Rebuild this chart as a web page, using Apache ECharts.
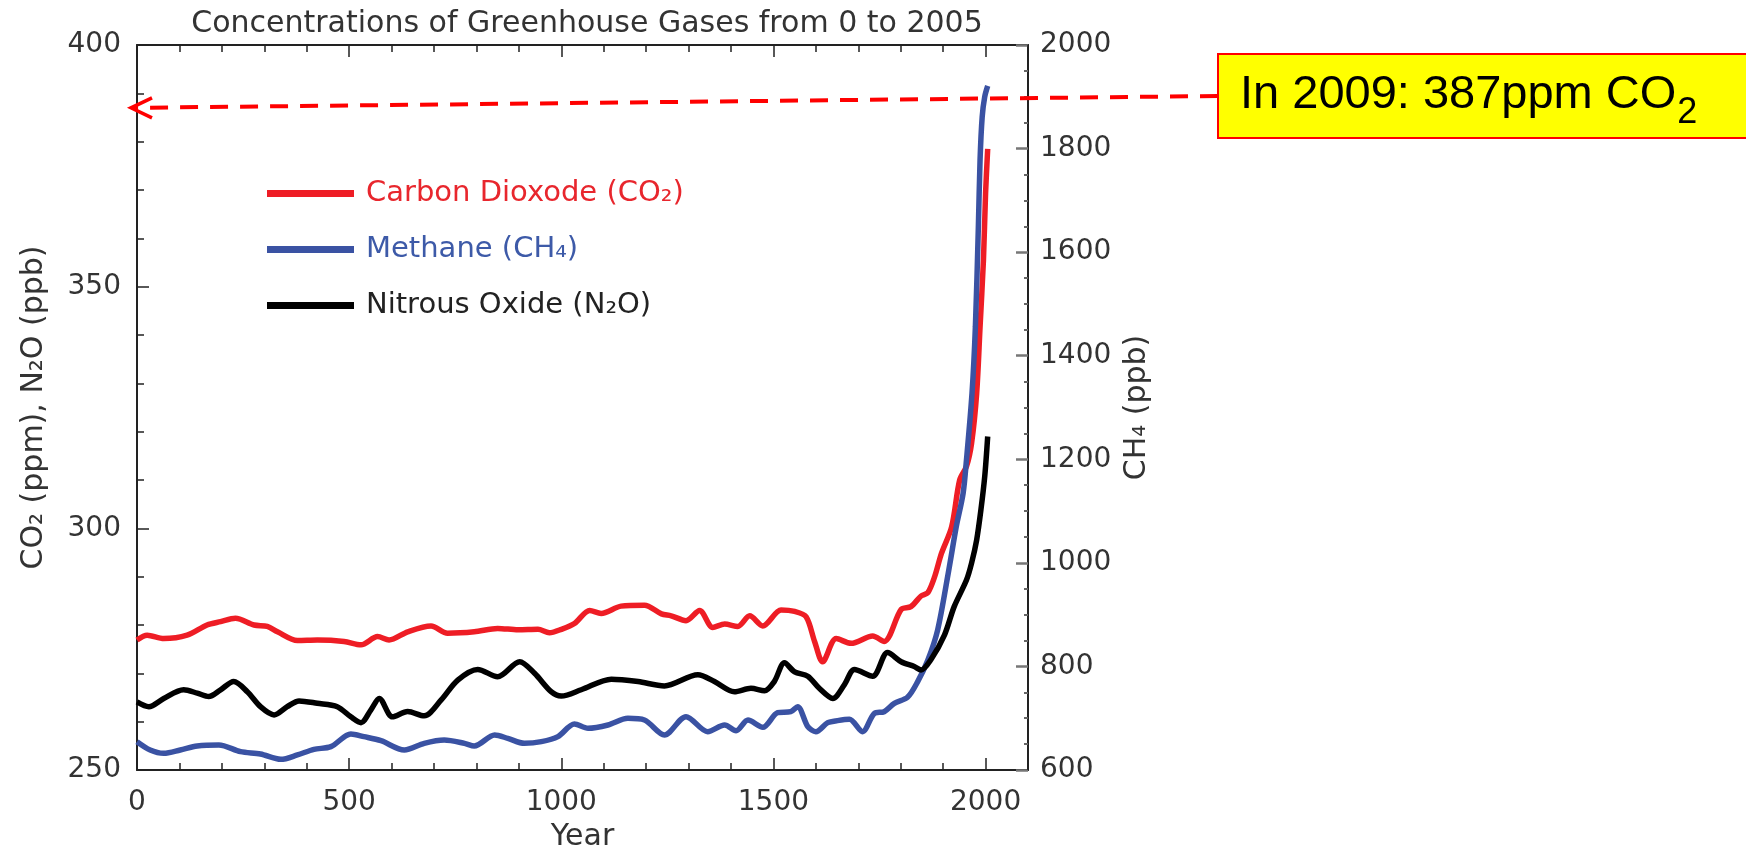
<!DOCTYPE html>
<html>
<head>
<meta charset="utf-8">
<script src="https://cdn.jsdelivr.net/npm/echarts@6/dist/echarts.min.js"></script>
<style>
html,body{margin:0;padding:0;background:#fff;}
#c{width:1746px;height:856px;}
</style>
</head>
<body>
<div id="c"></div>
<script>
// ---------- data ----------
const chartTitle = 'Concentrations of Greenhouse Gases from 0 to 2005';
const xAxisName = 'Year';
const leftAxisName = 'CO\u2082 (ppm), N\u2082O (ppb)';
const rightAxisName = 'CH\u2084 (ppb)';
const seriesNames = ['Carbon Dioxode (CO\u2082)', 'Methane (CH\u2084)', 'Nitrous Oxide (N\u2082O)'];

const co2Years = [0,24,63,118,165,197,232,276,307,331,378,425,488,528,567,594,638,693,732,795,850,898,945,972,1000,1031,1067,1094,1141,1196,1236,1259,1294,1326,1357,1385,1416,1444,1475,1518,1550,1577,1597,1616,1648,1683,1734,1761,1801,1824,1848,1864,1880,1896,1920,1939,1955,1967,1979,1987,1995,2000,2005];
const co2Ppm = [276.9,277.9,277.2,277.9,280.0,280.7,281.4,280.0,279.7,278.6,276.8,276.9,276.6,275.9,277.6,276.9,278.6,279.8,278.3,278.6,279.3,279.0,279.1,278.4,279.1,280.3,283.0,282.4,283.9,284.1,282.3,281.9,280.9,283.0,279.5,280.2,279.7,281.9,279.8,283.1,282.8,281.7,276.6,272.4,277.2,276.2,277.7,276.6,283.2,283.8,286.0,286.7,290.0,294.8,300.3,310.0,312.8,317.6,327.9,341.7,355.5,369.3,378.5];

const ch4Years = [0,31,63,102,142,193,244,291,339,378,417,457,504,535,575,630,677,724,772,795,843,874,913,953,992,1031,1063,1110,1157,1196,1243,1294,1345,1385,1412,1440,1475,1510,1541,1557,1581,1600,1628,1651,1679,1710,1738,1761,1785,1816,1840,1864,1887,1912,1931,1947,1955,1968,1976,1983,1987,1992,1998,2005];
const ch4Ppb = [654.7,638.6,632.2,638.6,646.3,648.3,635.4,630.9,620.6,629.0,639.9,645.1,669.5,664.4,656.6,638.6,651.5,657.9,651.5,646.3,667.6,661.1,651.5,654.7,664.4,688.8,680.5,686.9,699.8,696.5,667.6,703.0,674.0,686.9,675.9,696.5,682.4,710.7,712.6,722.3,683.7,674.0,691.4,695.3,697.8,674.0,709.4,712.6,728.7,740.3,770.6,812.4,870.3,980,1070,1134,1199,1327,1456,1649,1778,1861,1900,1921];

const n2oYears = [0,28,63,110,142,169,197,228,260,291,323,354,382,425,472,504,528,551,571,602,638,677,717,756,803,850,902,937,976,1000,1047,1118,1181,1243,1322,1361,1408,1447,1479,1502,1526,1550,1581,1608,1640,1667,1691,1734,1769,1801,1832,1848,1871,1903,1926,1955,1967,1979,1989,1998,2005];
const n2oPpb = [264.1,263.1,264.8,266.6,265.9,265.2,266.6,268.3,266.2,263.1,261.4,263.1,264.3,263.8,263.1,261.0,259.8,262.4,264.8,261.0,262.1,261.2,264.5,268.6,270.8,269.3,272.4,270.0,266.2,265.3,266.6,268.8,268.3,267.4,269.7,268.3,266.2,266.9,266.4,268.3,272.2,270.3,269.4,266.9,264.8,267.6,270.8,269.4,274.3,272.4,271.4,270.7,272.8,277.9,283.8,289.3,292.8,297.6,303.8,310.7,319.0];

const annotationMain = 'In 2009: 387ppm CO';
const annotationSub = '2';
const annotationValue = 387;

// ---------- chart ----------
function pairs(xs, ys) { return xs.map((x, i) => [x, ys[i]]); }
const plain = v => String(v);

const FONT = 'DejaVu Sans';
const RED = '#ee1d25', BLUE = '#3a52a3', BLACK = '#000000';
const LINE_W = 5.5;
const chart = echarts.init(document.getElementById('c'), null, { renderer: 'canvas' });

function xAx(pos, interval, len, withLine, withLabel) {
  return {
    type: 'value', position: pos, min: 0, max: 2100, interval: interval,
    name: withLabel ? xAxisName : '',
    nameLocation: 'middle', nameGap: 52,
    nameTextStyle: { fontFamily: FONT, fontSize: 30, color: '#333' },
    axisLine: { show: withLine, onZero: false, lineStyle: { color: '#222', width: 2 } },
    axisTick: { show: true, inside: true, length: len, lineStyle: { color: '#222', width: 1.5 } },
    axisLabel: { show: withLabel, fontFamily: FONT, fontSize: 28, color: '#333', margin: 19, showMaxLabel: false, formatter: plain },
    splitLine: { show: false }
  };
}

const option = {
  animation: false,
  backgroundColor: '#ffffff',
  title: {
    text: chartTitle, left: 582, top: 4, textAlign: 'center',
    textStyle: { fontFamily: FONT, fontSize: 30, fontWeight: 'normal', color: '#333' }
  },
  grid: { left: 137, right: 718, top: 45, bottom: 86, containLabel: false, outerBoundsMode: 'none' },
  legend: {
    orient: 'vertical', left: 262, top: 174, itemWidth: 87, itemHeight: 7, itemGap: 27,
    icon: 'rect',
    textStyle: { fontFamily: FONT, fontSize: 29, padding: [0, 0, 0, 7] },
    data: [
      { name: seriesNames[0], textStyle: { color: '#e8262d' } },
      { name: seriesNames[1], textStyle: { color: '#3d5aa8' } },
      { name: seriesNames[2], textStyle: { color: '#222' } }
    ]
  },
  xAxis: [
    xAx('bottom', 500, 12, true, true),
    xAx('bottom', 100, 7, false, false),
    xAx('top', 500, 12, true, false),
    xAx('top', 100, 7, false, false)
  ],
  yAxis: [
    {
      type: 'value', position: 'left', min: 250, max: 400, interval: 50,
      name: leftAxisName, nameLocation: 'middle', nameGap: 88, nameRotate: 90,
      nameTextStyle: { fontFamily: FONT, fontSize: 30, color: '#333' },
      axisLine: { show: true, onZero: false, lineStyle: { color: '#222', width: 2 } },
      axisTick: { show: true, inside: true, length: 12, lineStyle: { color: '#222', width: 1.5 } },
      minorTick: { show: true, splitNumber: 5, length: 7, lineStyle: { color: '#222', width: 1.5 } },
      axisLabel: { fontFamily: FONT, fontSize: 28, color: '#333', margin: 16, formatter: plain },
      splitLine: { show: false }
    },
    {
      type: 'value', position: 'right', min: 600, max: 2000, interval: 200,
      name: rightAxisName, nameLocation: 'middle', nameGap: 92, nameRotate: 90,
      nameTextStyle: { fontFamily: FONT, fontSize: 30, color: '#333' },
      axisLine: { show: true, onZero: false, lineStyle: { color: '#222', width: 2 } },
      axisTick: { show: true, inside: true, length: 12, lineStyle: { color: '#777', width: 2.5 } },
      minorTick: { show: true, splitNumber: 4, length: 4, lineStyle: { color: '#666', width: 2 } },
      axisLabel: { fontFamily: FONT, fontSize: 28, color: '#333', margin: 12, formatter: plain },
      splitLine: { show: false }
    }
  ],
  series: [
    {
      name: seriesNames[0], type: 'line', xAxisIndex: 0, yAxisIndex: 0,
      data: pairs(co2Years, co2Ppm), smooth: 0.3, showSymbol: false, symbol: 'none',
      lineStyle: { color: RED, width: LINE_W }, itemStyle: { color: RED }
    },
    {
      name: seriesNames[1], type: 'line', xAxisIndex: 0, yAxisIndex: 1,
      data: pairs(ch4Years, ch4Ppb), smooth: 0.3, showSymbol: false, symbol: 'none',
      lineStyle: { color: BLUE, width: LINE_W }, itemStyle: { color: BLUE }
    },
    {
      name: seriesNames[2], type: 'line', xAxisIndex: 0, yAxisIndex: 0,
      data: pairs(n2oYears, n2oPpb), smooth: 0.3, showSymbol: false, symbol: 'none',
      lineStyle: { color: BLACK, width: LINE_W }, itemStyle: { color: BLACK }
    }
  ]
};
chart.setOption(option);

// ---------- annotation ----------
const tip = chart.convertToPixel({ xAxisIndex: 0, yAxisIndex: 0 }, [0, annotationValue]);
const tipX = tip[0] - 6, tipY = tip[1];
const boxLeft = 1218, boxTop = 54, boxH = 84, lineStartY = 96;
const mainFont = 47, subFont = 36;
const ctx = document.createElement('canvas').getContext('2d');
ctx.font = mainFont + 'px "Liberation Sans"';
const mainW = ctx.measureText(annotationMain).width;
const textX = 1240, textY = 95;

chart.setOption({
  graphic: [
    { type: 'line', z: 100, shape: { x1: boxLeft, y1: lineStartY, x2: tipX + 2, y2: tipY },
      style: { stroke: '#ff0000', lineWidth: 4, lineDash: [18, 12] } },
    { type: 'polyline', z: 100, shape: { points: [[tipX + 21, tipY - 10], [tipX, tipY], [tipX + 21, tipY + 10]] },
      style: { stroke: '#ff0000', lineWidth: 3.5, fill: null } },
    { type: 'rect', z: 100, shape: { x: boxLeft, y: boxTop, width: 560, height: boxH },
      style: { fill: '#ffff00', stroke: '#ff0000', lineWidth: 2 } },
    { type: 'text', z: 101, x: textX, y: textY,
      style: { text: annotationMain, fontFamily: 'Liberation Sans', fontSize: mainFont, fill: '#000', verticalAlign: 'middle', align: 'left' } },
    { type: 'text', z: 101, x: textX + mainW + 1, y: textY + 18,
      style: { text: annotationSub, fontFamily: 'Liberation Sans', fontSize: subFont, fill: '#000', verticalAlign: 'middle', align: 'left' } }
  ]
});
</script>
</body>
</html>
